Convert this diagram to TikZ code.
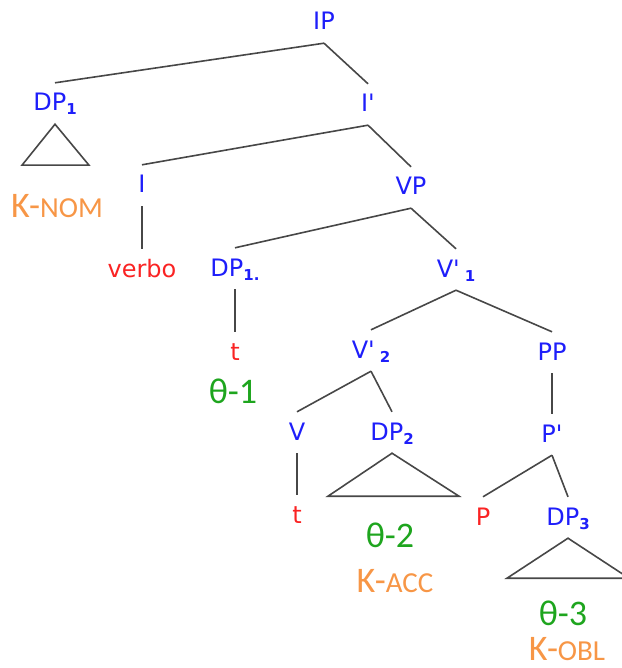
\documentclass[tikz,border=0pt]{standalone}
\usepackage{fontspec}
\setmainfont{DejaVu Sans}
\newfontfamily\calib{Carlito}
\definecolor{nodeblue}{RGB}{30,30,250}
\definecolor{wordred}{RGB}{250,35,35}
\definecolor{thetagreen}{RGB}{30,165,30}
\definecolor{caseorange}{RGB}{247,150,70}
\newcommand{\sbs}[1]{\raisebox{-4pt}{\fontsize{15}{15}\selectfont\bfseries #1}}
\newcommand{\barmark}{\textquotesingle}
\newcommand{\kcase}[1]{K-{\fontsize{29}{29}\selectfont #1}}
\tikzset{
  lab/.style={font=\fontsize{24}{24}\selectfont, text=nodeblue, anchor=base,
    text height=18pt, text depth=3pt, inner xsep=0pt, inner ysep=10pt},
  leaf/.style={lab, text=wordred},
  theta/.style={font=\calib\fontsize{36}{36}\selectfont, text=thetagreen,
    anchor=base, inner sep=0pt},
  kase/.style={theta, text=caseorange},
  branch/.style={draw=black!72, line width=1.6pt},
}

\begin{document}
\begin{tikzpicture}[x=1pt,y=-1pt]
			\useasboundingbox (0,0) rectangle (621,668);
			%%%%%%%%%%%%%%%%%%%%%%%%%%%%%%%%
			\node[lab] (IP) at (324,30){IP};
			\node[lab] (DPa) at (55,111){DP\sbs{1}};
			\node[lab] (Ibar) at (368,112){I\barmark};
			\node[lab] (I) at (142,193){I};
			\node[lab] (VP) at (411,195){VP};
			\node[leaf] (verbo) at (142,277){verbo};
			\node[lab] (DPb) at (235,276){DP\sbs{1.}};
			\node[lab] (Vbara) at (456,277){V\barmark\hspace{5pt}\sbs{1}};
			\node[leaf] (tA) at (235,360){t};
			\node[lab] (Vbarb) at (371,358){V\barmark\hspace{5pt}\sbs{2}};
			\node[lab] (PP) at (552,360){PP};
			\node[lab] (V) at (297,440){V};
			\node[lab] (DPc) at (392,440){DP\sbs{2}};
			\node[lab] (Pbar) at (552,442){P\barmark};
			\node[leaf] (tB) at (297,523){t};
			\node[leaf] (P) at (483,525){P};
			\node[lab] (DPd) at (568,525){DP\sbs{3}};
			%%%%%%%%%%%%%%%%%%%%%%%%%%%%%%%%
			\draw[branch] (IP.south) -- (DPa.north);
			\draw[branch] (IP.south) -- (Ibar.north);
			\draw[branch] (Ibar.south) -- (I.north);
			\draw[branch] (Ibar.south) -- (VP.north);
			\draw[branch] (I.south) -- (verbo.north);
			\draw[branch] (VP.south) -- (DPb.north);
			\draw[branch] (VP.south) -- (Vbara.north);
			\draw[branch] (DPb.south) -- (tA.north);
			\draw[branch] (Vbara.south) -- (Vbarb.north);
			\draw[branch] (Vbara.south) -- (PP.north);
			\draw[branch] (Vbarb.south) -- (V.north);
			\draw[branch] (Vbarb.south) -- (DPc.north);
			\draw[branch] (PP.south) -- (Pbar.north);
			\draw[branch] (V.south) -- (tB.north);
			\draw[branch] (Pbar.south) -- (P.north);
			\draw[branch] (Pbar.south) -- (DPd.north);
			%%%%%%%%%%%%%%%%%%%%%%%%%%%%%
			\draw[branch] (DPa.south) -- ++(-33,41) -- ++(67,0) -- cycle;
			\draw[branch] (DPc.south) -- ++(-64,43) -- ++(131,0) -- cycle;
			\draw[branch] (DPd.south) -- ++(-61,40) -- ++(122,0) -- cycle;
			%%%%%%%%%%%%%%%%%%%%%%%%%%%%%
			\node[kase] (nom) at (57,217){\kcase{NOM}};
			\node[theta] (th1) at (233,403){θ-1};
			\node[theta] (th2) at (390,547){θ-2};
			\node[kase] (acc) at (395,592){\kcase{ACC}};
			\node[theta] (th3) at (563,625){θ-3};
			\node[kase] (obl) at (567,660){\kcase{OBL}};
		\end{tikzpicture}
\end{document}
